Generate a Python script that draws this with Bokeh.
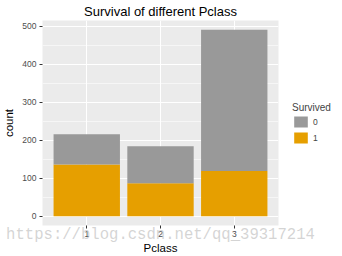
from bokeh.plotting import figure
from bokeh.models import (Range1d, FixedTicker, Legend, LegendItem,
                          ColumnDataSource, LinearAxis)
from bokeh.embed import file_html
from bokeh.resources import INLINE

# ---- data ----
pclass = ["1", "2", "3"]
survived_1 = [136, 87, 119]
survived_0 = [80, 97, 372]
legend_labels = ["0", "1"]
y_ticks = [0, 100, 200, 300, 400, 500]
watermark = "https://blog.csdn.net/qq_39317214"

GRAY = "#999999"
ORANGE = "#E69F00"
FONT = "Liberation Sans"

x = [i + 1 for i in range(len(pclass))]
src = ColumnDataSource(dict(x=x, s1=survived_1, s0=survived_0))
total_max = max(a + b for a, b in zip(survived_1, survived_0))
pad = 0.05 * total_max

p = figure(width=342, height=256, frame_width=236, frame_height=205,
           output_backend="svg", toolbar_location=None,
           x_range=Range1d(0.4, len(pclass) + 0.6),
           y_range=Range1d(-pad, total_max + pad),
           title="Survival of different Pclass",
           min_border_left=39, min_border_right=0,
           min_border_top=20, min_border_bottom=31)

rs = p.vbar_stack(["s1", "s0"], x="x", width=0.9, color=[ORANGE, GRAY],
                  line_color=None, source=src)

p.background_fill_color = "#EBEBEB"
p.border_fill_color = "white"
p.outline_line_color = None

# title
p.title.align = "center"
p.title.text_font = FONT
p.title.text_font_size = "13px"
p.title.text_font_style = "normal"
p.title.text_color = "black"
p.title.standoff = 3

# grids
minor = [(a + b) / 2 for a, b in zip(y_ticks[:-1], y_ticks[1:])]
yt = FixedTicker(ticks=y_ticks, minor_ticks=minor)
p.yaxis.ticker = yt
p.ygrid.ticker = yt
p.ygrid.grid_line_color = "white"
p.ygrid.grid_line_width = 1.1
p.ygrid.minor_grid_line_color = "white"
p.ygrid.minor_grid_line_width = 0.55
p.xaxis.ticker = FixedTicker(ticks=x)
p.xaxis.major_label_overrides = {xi: lab for xi, lab in zip(x, pclass)}
p.xgrid.grid_line_color = "white"
p.xgrid.grid_line_width = 1.1

for ax in (p.xaxis, p.yaxis):
    ax.axis_line_color = None
    ax.major_tick_in = 0
    ax.major_tick_out = 3
    ax.major_tick_line_color = "#333333"
    ax.minor_tick_line_color = None
    ax.major_label_text_font = FONT
    ax.major_label_text_font_size = "8.5px"
    ax.major_label_text_color = "#4D4D4D"
    ax.major_label_standoff = 2
    ax.axis_label_text_font = FONT
    ax.axis_label_text_font_size = "11.5px"
    ax.axis_label_text_font_style = "normal"
    ax.axis_label_text_color = "black"
p.xaxis.axis_label_standoff = 2
p.yaxis.axis_label_standoff = 4
p.xaxis.axis_label = "Pclass"
p.yaxis.axis_label = "count"

legend = Legend(items=[LegendItem(label=legend_labels[0], renderers=[rs[1]]),
                       LegendItem(label=legend_labels[1], renderers=[rs[0]])],
                title="Survived", location="center_left",
                glyph_width=17, glyph_height=14, spacing=2,
                label_width=5, label_height=14,
                label_standoff=4, padding=2, margin=14,
                label_text_font=FONT, label_text_font_size="8.5px",
                title_text_font=FONT, title_text_font_size="10px",
                title_text_font_style="normal", title_standoff=2,
                border_line_color=None, background_fill_alpha=0)
p.add_layout(legend, "right")

# watermark drawn as the label of an empty extra axis
wm_axis = LinearAxis(ticker=FixedTicker(ticks=[]), axis_line_color=None,
                     major_tick_line_color=None, minor_tick_line_color=None,
                     major_tick_out=0, major_tick_in=0, major_label_standoff=0,
                     axis_label=watermark, axis_label_standoff=-31,
                     axis_label_text_font="Liberation Mono",
                     axis_label_text_font_size="15.6px",
                     axis_label_text_font_style="normal",
                     axis_label_text_color="#b8b8b8",
                     axis_label_text_alpha=0.6)
p.add_layout(wm_axis, "below")

open("out.html", "w").write(file_html(p, INLINE))
